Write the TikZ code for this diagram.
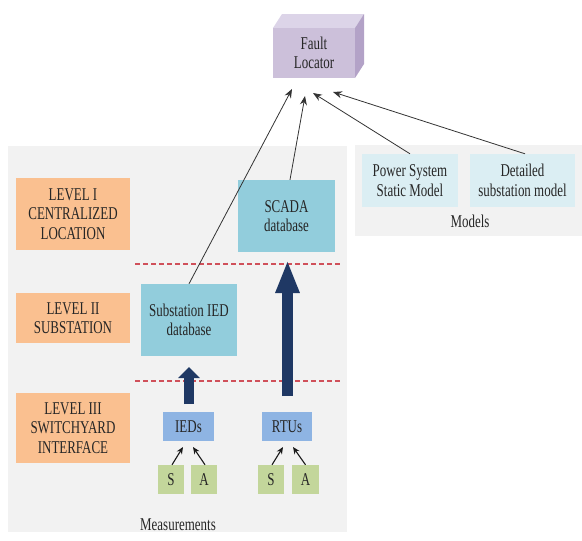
\documentclass[tikz,border=0pt]{standalone}
\usepackage{fontspec}
\setmainfont{Liberation Serif}[FakeStretch=0.72]
\usetikzlibrary{arrows.meta,calc}
\definecolor{panelgrey}{HTML}{F2F2F2}
\definecolor{levorange}{HTML}{FAC090}
\definecolor{dbcyan}{HTML}{92CDDC}
\definecolor{devblue}{HTML}{8EB4E3}
\definecolor{sagreen}{HTML}{C3D69B}
\definecolor{modcyan}{HTML}{DBEEF3}
\definecolor{flfront}{HTML}{CCC0DA}
\definecolor{fltop}{HTML}{DCD4E8}
\definecolor{flside}{HTML}{B3A2C7}
\definecolor{navyarrow}{HTML}{1F3864}
\definecolor{dashred}{HTML}{D0505A}
\tikzset{
  txt/.style={font=\fontsize{18}{19.5}\selectfont, align=center, inner sep=0pt, text=black!85},
  fbox/.style={txt, rectangle, minimum width=#1},
  levbox/.style={fbox=114pt, fill=levorange},
  dbbox/.style={txt, rectangle, fill=dbcyan, minimum height=72pt},
  devbox/.style={txt, rectangle, fill=devblue, minimum height=29pt},
  sabox/.style={txt, rectangle, fill=sagreen, minimum height=29pt},
  modbox/.style={txt, rectangle, fill=modcyan, minimum height=53pt},
  thin/.style={draw=black!80, line width=0.8pt, -{Stealth[length=9pt,width=7pt]}},
  small/.style={draw=black!90, line width=1.1pt, -{Stealth[length=7pt,width=6pt]}},
  fat/.style={draw=navyarrow, line width=11pt, -{Triangle[length=33pt,width=22pt]}},
  fatshort/.style={draw=navyarrow, line width=10pt, -{Triangle[length=11pt,width=21pt]}},
  levelsep/.style={draw=dashred, line width=1.1pt, dash pattern=on 5pt off 3pt},
}
\begin{document}
\begin{tikzpicture}[x=1pt,y=-1pt]
\useasboundingbox (0,0) rectangle (582,541);
% panels
\fill[panelgrey] (8,146) rectangle (347,532);
\fill[panelgrey] (355,145) rectangle (582,236);
% fault locator 3D box
\fill[fltop] (273,28) -- (282,14) -- (364,14) -- (355,28) -- cycle;
\fill[flside] (355,28) -- (364,14) -- (364,64) -- (355,78) -- cycle;
\node[txt, fill=flfront, minimum width=82pt, minimum height=50pt] (fl) at (314,53) {Fault\\Locator};
% level boxes
\node[levbox, minimum height=72pt] (lev1) at (73,214) {LEVEL I\\CENTRALIZED\\LOCATION};
\node[levbox, minimum height=50pt] (lev2) at (73,318) {LEVEL II\\SUBSTATION};
\node[levbox, minimum height=70pt] (lev3) at (73,428) {LEVEL III\\SWITCHYARD\\INTERFACE};
% databases
\node[dbbox, minimum width=97pt] (scada) at (286.5,216) {SCADA\\database};
\node[dbbox, minimum width=96pt] (sub) at (189,320) {Substation IED\\database};
% devices
\node[devbox, minimum width=51pt] (ieds) at (188.5,426.5) {IEDs};
\node[devbox, minimum width=50pt] (rtus) at (287,426.5) {RTUs};
\node[sabox, minimum width=26pt] (s1) at (171,479.5) {S};
\node[sabox, minimum width=26pt] (a1) at (204,479.5) {A};
\node[sabox, minimum width=26pt] (s2) at (271,479.5) {S};
\node[sabox, minimum width=27pt] (a2) at (305.5,479.5) {A};
\node[txt] (meas) at (178,525) {Measurements};
% models
\node[modbox, minimum width=96pt] (psm) at (410,180.5) {Power System\\Static Model};
\node[modbox, minimum width=105pt] (dsm) at (522.5,180.5) {Detailed\\substation model};
\node[txt] (models) at (470,221) {Models};
% level separators
\draw[levelsep] (135,264) -- (340,264);
\draw[levelsep] (135,381) -- (340,381);
% arrow tips below the fault locator
\coordinate (t1) at (292,89);
\coordinate (t2) at (305,96);
\coordinate (t3) at (313,93);
\coordinate (t4) at (333,92);
\draw[thin] (sub.north) -- (t1);
\draw[thin] ($(scada.north)+(3.5,0)$) -- (t2);
\draw[thin] (psm.north) -- (t3);
\draw[thin] ($(dsm.north)+(2.5,0)$) -- (t4);
% thick arrows
\coordinate (f1s) at (189,404);
\coordinate (f1e) at (189,367);
\coordinate (f2s) at (287.5,396);
\coordinate (f2e) at (287.5,260);
\draw[fatshort] (f1s) -- (f1e);
\draw[fat] (f2s) -- (f2e);
% measurement arrows
\coordinate (i1) at (183,447);
\coordinate (i2) at (193,447);
\coordinate (r1) at (283,447);
\coordinate (r2) at (293,447);
\draw[small] ($(s1.north)+(1,0)$) -- (i1);
\draw[small] ($(a1.north)+(1,0)$) -- (i2);
\draw[small] ($(s2.north)+(1,0)$) -- (r1);
\draw[small] (a2.north) -- (r2);
\end{tikzpicture}
\end{document}
